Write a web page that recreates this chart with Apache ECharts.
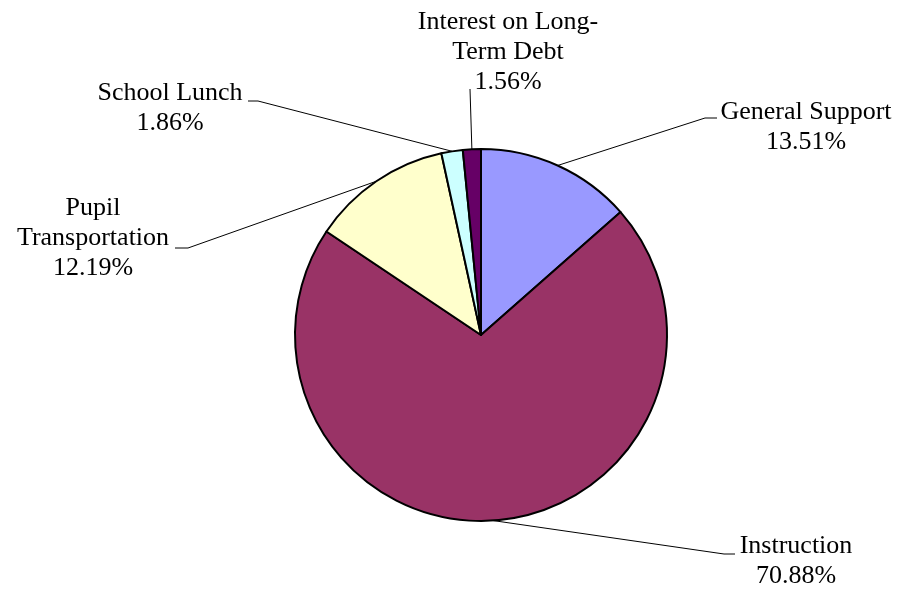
<!DOCTYPE html>
<html>
<head>
<meta charset="utf-8">
<script src="https://cdn.jsdelivr.net/npm/echarts@6/dist/echarts.min.js"></script>
<style>
html,body{margin:0;padding:0;background:#fff;}
#chart{width:904px;height:592px;}
</style>
</head>
<body>
<div id="chart"></div>
<script>
// Data
var categories = ['General Support', 'Instruction', 'Pupil\nTransportation', 'School Lunch', 'Interest on Long-\nTerm Debt'];
var percents = [13.51, 70.88, 12.19, 1.86, 1.56];
var colors = ['#9999FF', '#993366', '#FFFFCC', '#CCFFFF', '#660066'];

// Label placement (layout only): text block center, and leader line end on the text side
var labelPos = [
  {x: 806, y: 127, end: [717, 118], knee: [705, 118]},
  {x: 796, y: 561, end: [735, 554], knee: [724, 554]},
  {x: 93,  y: 238, end: [175, 248], knee: [188, 248]},
  {x: 170, y: 108, end: [248, 101], knee: [258, 101]},
  {x: 508, y: 52,  end: [470, 89],  knee: [470, 89]}
];

var chart = echarts.init(document.getElementById('chart'), null, {renderer: 'canvas'});
var cx = 481, cy = 335, R = 186;
chart.setOption({
  animation: false,
  backgroundColor: '#ffffff',
  series: [{
    type: 'pie',
    center: [cx, cy],
    radius: [0, R],
    startAngle: 90,
    clockwise: true,
    avoidLabelOverlap: false,
    data: categories.map(function (c, i) {
      return {name: c, value: percents[i], itemStyle: {color: colors[i]}};
    }),
    itemStyle: {borderColor: '#000000', borderWidth: 2},
    emphasis: {disabled: true},
    label: {
      show: true,
      position: 'outside',
      formatter: function (p) { return p.name + '\n' + p.value.toFixed(2) + '%'; },
      fontFamily: '"Liberation Serif", "Times New Roman", serif',
      fontSize: 26,
      lineHeight: 30,
      color: '#000000',
      align: 'center'
    },
    labelLine: {show: true, length: 20, length2: 10, lineStyle: {color: '#000000', width: 1}},
    labelLayout: function (params) {
      var i = params.dataIndex;
      var lp = labelPos[i];
      // anchor on the slice edge at its mid angle (from ECharts' own layout)
      var start = params.labelLinePoints ? params.labelLinePoints[0] : null;
      var out = {x: lp.x, y: lp.y, align: 'center', verticalAlign: 'middle'};
      if (start) {
        out.labelLinePoints = [start, lp.knee, lp.end];
      }
      return out;
    }
  }]
});
</script>
</body>
</html>
